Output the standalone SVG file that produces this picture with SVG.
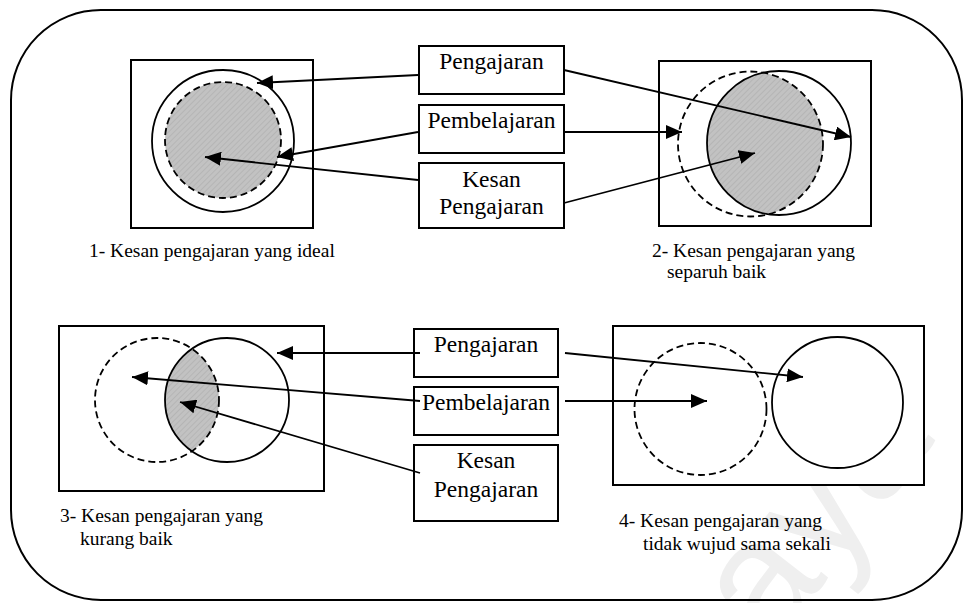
<svg xmlns="http://www.w3.org/2000/svg" width="964" height="603" viewBox="0 0 964 603">
  <defs>
    <pattern id="hatch" patternUnits="userSpaceOnUse" width="4" height="4" patternTransform="rotate(45)">
      <rect width="4" height="4" fill="#c2c2c2"/>
      <line x1="0" y1="0" x2="0" y2="4" stroke="#acacac" stroke-width="1.2"/>
    </pattern>
    <marker id="arrow" markerUnits="userSpaceOnUse" markerWidth="18" markerHeight="14" refX="16" refY="7" orient="auto">
      <path d="M0,0 L16,7 L0,14 Z" fill="#000"/>
    </marker>
    <clipPath id="clip2"><circle cx="779" cy="143" r="72"/></clipPath>
    <clipPath id="clip3"><circle cx="227" cy="400" r="62"/></clipPath>
  </defs>
  <style>
    .frame { fill: none; stroke: #000; stroke-width: 2; }
    .panel { fill: #fff; stroke: #000; stroke-width: 2; }
    .solid { fill: none; stroke: #000; stroke-width: 1.8; }
    .dash { fill: none; stroke: #000; stroke-width: 1.8; stroke-dasharray: 7 4; }
    .box { fill: #fff; stroke: #000; stroke-width: 2; }
    .lbl { font-size: 23.5px; fill: #000; text-anchor: middle; }
    .cap { font-size: 19.5px; fill: #000; }
    .conn { fill: none; stroke: #000; stroke-width: 1.8; marker-end: url(#arrow); }
    .wm { font-size: 165px; fill: #efefef; }
  </style>

  <rect width="964" height="603" fill="#fff"/>
  <text class="wm" font-family="Liberation Sans, Arial, sans-serif" transform="translate(772,650) rotate(-52)">aya</text>

  <!-- outer frame -->
  <rect class="frame" x="11" y="10" width="951" height="590" rx="90" ry="90"/>

  <!-- panel 1: ideal -->
  <g id="panel1">
    <rect class="panel" x="131" y="60" width="182" height="168"/>
    <circle cx="223" cy="140" r="58" fill="url(#hatch)"/>
    <circle class="solid" cx="223" cy="141" r="71"/>
    <circle class="dash" cx="223" cy="140" r="58"/>
  </g>

  <!-- panel 2: half good -->
  <g id="panel2">
    <rect class="panel" x="659" y="61" width="212" height="165"/>
    <circle cx="750.5" cy="144" r="72.5" fill="url(#hatch)" clip-path="url(#clip2)"/>
    <circle class="dash" cx="750.5" cy="144" r="72.5"/>
    <circle class="solid" cx="779" cy="143" r="72"/>
  </g>

  <!-- panel 3: less good -->
  <g id="panel3">
    <rect class="panel" x="59" y="326" width="265" height="165"/>
    <circle cx="157" cy="400" r="62" fill="url(#hatch)" clip-path="url(#clip3)"/>
    <circle class="dash" cx="157" cy="400" r="62"/>
    <circle class="solid" cx="227" cy="400" r="62"/>
  </g>

  <!-- panel 4: not at all -->
  <g id="panel4">
    <rect class="panel" x="613" y="326" width="311" height="159"/>
    <circle class="dash" cx="700.5" cy="409" r="66"/>
    <circle class="solid" cx="837.5" cy="402.5" r="65.5"/>
  </g>

  <g font-family="Liberation Serif, Times New Roman, serif">
    <!-- label boxes, upper row -->
    <g id="top-pengajaran">
      <rect class="box" x="419" y="46" width="145" height="48"/>
      <text class="lbl" x="491.5" y="69">Pengajaran</text>
    </g>
    <g id="top-pembelajaran">
      <rect class="box" x="419" y="105" width="145" height="48"/>
      <text class="lbl" x="491.5" y="128">Pembelajaran</text>
    </g>
    <g id="top-kesan">
      <rect class="box" x="419" y="163" width="145" height="65"/>
      <text class="lbl" x="491.5" y="187">Kesan</text>
      <text class="lbl" x="491.5" y="214">Pengajaran</text>
    </g>

    <!-- label boxes, lower row -->
    <g id="bottom-pengajaran">
      <rect class="box" x="414" y="329" width="144" height="48"/>
      <text class="lbl" x="486" y="352">Pengajaran</text>
    </g>
    <g id="bottom-pembelajaran">
      <rect class="box" x="414" y="387" width="144" height="48"/>
      <text class="lbl" x="486" y="410">Pembelajaran</text>
    </g>
    <g id="bottom-kesan">
      <rect class="box" x="414" y="445" width="144" height="76"/>
      <text class="lbl" x="486" y="468">Kesan</text>
      <text class="lbl" x="486" y="497">Pengajaran</text>
    </g>

    <!-- captions -->
    <g id="captions">
      <text class="cap" x="89" y="257">1- Kesan pengajaran yang ideal</text>
      <text class="cap" x="652" y="257">2- Kesan pengajaran yang</text>
      <text class="cap" x="667" y="278">separuh baik</text>
      <text class="cap" x="60" y="522">3- Kesan pengajaran yang</text>
      <text class="cap" x="80" y="545">kurang baik</text>
      <text class="cap" x="619" y="527">4- Kesan pengajaran yang</text>
      <text class="cap" x="643" y="550">tidak wujud sama sekali</text>
    </g>
  </g>

  <!-- connectors -->
  <g id="connectors">
    <line class="conn" x1="418" y1="75" x2="257" y2="83"/>
    <line class="conn" x1="418" y1="132" x2="277" y2="157"/>
    <line class="conn" x1="418" y1="180" x2="205" y2="157"/>
    <line class="conn" x1="564" y1="70" x2="851" y2="137"/>
    <line class="conn" x1="564" y1="132" x2="682" y2="132"/>
    <line class="conn" x1="564" y1="203" x2="755" y2="153"/>
    <line class="conn" x1="420" y1="353" x2="277" y2="353"/>
    <line class="conn" x1="420" y1="401" x2="132" y2="377"/>
    <line class="conn" x1="420" y1="473" x2="180" y2="402"/>
    <line class="conn" x1="565" y1="353" x2="803" y2="377"/>
    <line class="conn" x1="565" y1="401" x2="707" y2="401"/>
  </g>
</svg>
